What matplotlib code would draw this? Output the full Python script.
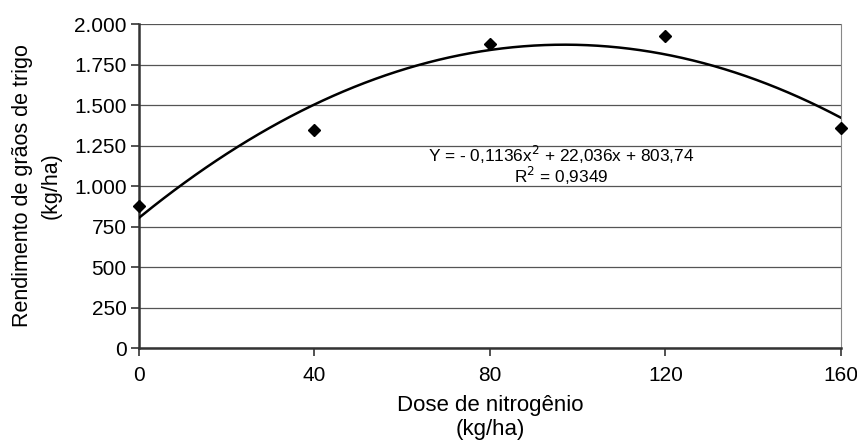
import numpy as np
import matplotlib
matplotlib.use("Agg")
import matplotlib.pyplot as plt
from matplotlib.ticker import FuncFormatter

plt.rcParams['font.family'] = ['Liberation Sans', 'DejaVu Sans']

dose = [0, 40, 80, 120, 160]
rendimento = [877, 1346, 1875, 1928, 1356]
coef = [-0.1136, 22.036, 803.74]
eq_text = "Y = - 0,1136x$^2$ + 22,036x + 803,74\nR$^2$ = 0,9349"

fig = plt.figure(figsize=(8.57, 4.43), dpi=100, facecolor="w")
ax = fig.add_axes([0.1622, 0.2144, 0.8191, 0.7314])

xs = np.linspace(0, 160, 200)
ax.plot(xs, np.polyval(coef, xs), color="#000000", linewidth=1.8, zorder=3)
ax.plot(dose, rendimento, linestyle="none", marker="D", markersize=6.5,
        color="#000000", zorder=4, clip_on=False)

ax.set_xlim(0, 160)
ax.set_ylim(0, 2000)
ax.set_xticks([0, 40, 80, 120, 160])
ax.set_yticks(range(0, 2001, 250))
ax.yaxis.set_major_formatter(FuncFormatter(lambda v, p: f"{int(v):,}".replace(",", ".")))
ax.grid(axis="y", color="#555555", linewidth=0.9)
ax.set_axisbelow(True)

ax.spines["top"].set_visible(False)
ax.spines["right"].set_color("#888888")
ax.spines["left"].set_linewidth(1.8)
ax.spines["left"].set_color("#333333")
ax.spines["bottom"].set_linewidth(1.8)
ax.spines["bottom"].set_color("#333333")
ax.tick_params(direction="out", length=6, width=1.2, labelsize=15, color="#333333")
ax.tick_params(axis="x", pad=7)
ax.tick_params(axis="y", pad=3)

ax.set_xlabel("Dose de nitrogênio\n(kg/ha)", fontsize=16, labelpad=7, linespacing=1.2)
ax.set_ylabel("Rendimento de grãos de trigo\n(kg/ha)", fontsize=15.5, labelpad=9, linespacing=1.45)

ax.text(96.3, 1125, eq_text, ha="center", va="center", fontsize=12.4, linespacing=0.95)

fig.savefig("out.png", dpi=100)
